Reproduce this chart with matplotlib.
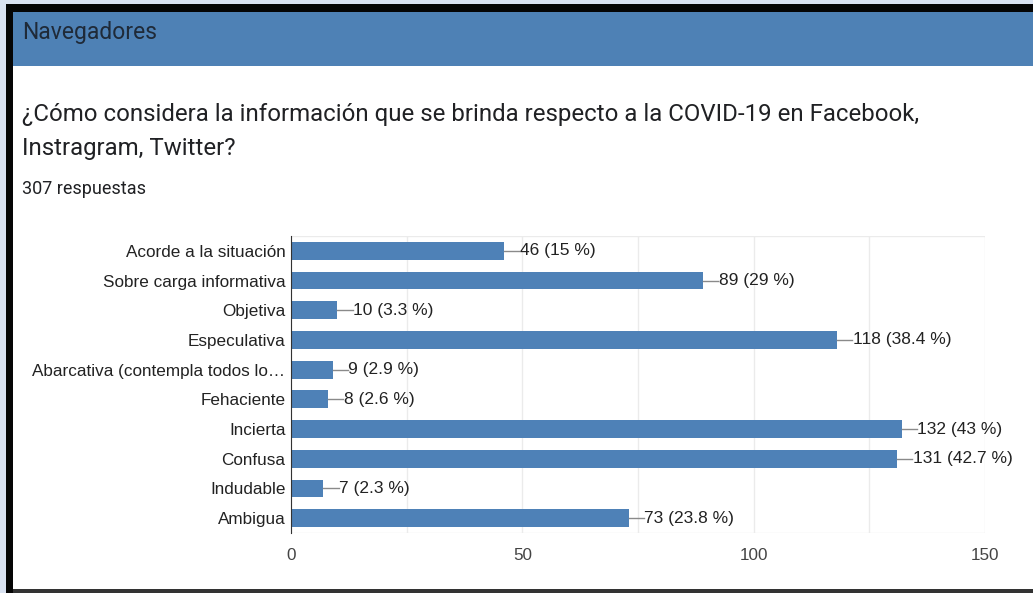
import matplotlib.pyplot as plt
from matplotlib.patches import Rectangle

categories = ['Acorde a la situación', 'Sobre carga informativa', 'Objetiva',
              'Especulativa', 'Abarcativa (contempla todos lo…', 'Fehaciente',
              'Incierta', 'Confusa', 'Indudable', 'Ambigua']
counts = [46, 89, 10, 118, 9, 8, 132, 131, 7, 73]
percents = ['15', '29', '3.3', '38.4', '2.9', '2.6', '43', '42.7', '2.3', '23.8']
xticks = [0, 50, 100, 150]

W, H = 1033, 593
BLUE = '#4e81b7'
plt.rcParams['font.family'] = ['Liberation Sans', 'DejaVu Sans']

fig = plt.figure(figsize=(W / 100, H / 100), dpi=100)


def box(x, y, w, h, color):
    # pixel coords measured from the top-left corner
    fig.patches.append(Rectangle((x / W, 1 - (y + h) / H), w / W, h / H,
                                 transform=fig.transFigure, color=color, lw=0))


def fx(x):
    return x / W


def fy(y):
    return 1 - y / H


box(0, 0, W, 4, '#d9e2f1')
box(0, 0, 6, H, '#d9e2f1')
box(6, 4, W - 6, 8, '#050505')
box(6, 4, 7, H - 4, '#050505')
box(13, 12, W - 13, 54, '#4e81b5')
box(13, 589, W - 13, 4, '#333333')

head = ['Roboto', 'DejaVu Sans']
fig.text(fx(22), fy(32), 'Navegadores', fontsize=16.5, color='#1f2a38',
         va='center', ha='left', family=head)
fig.text(fx(22), fy(114), '¿Cómo considera la información que se brinda respecto a la COVID-19 en Facebook,',
         fontsize=17.3, color='#202124', va='center', ha='left', family=head)
fig.text(fx(22), fy(149), 'Instragram, Twitter?',
         fontsize=17.3, color='#202124', va='center', ha='left', family=head)
fig.text(fx(22), fy(189), '307 respuestas', fontsize=13, color='#202124',
         va='center', ha='left', family=head)

ax = fig.add_axes([fx(291), fy(533), (985 - 291) / W, (533 - 236) / H])
ypos = list(range(len(categories)))
ax.barh(ypos, counts, height=0.6, color=BLUE, zorder=3)
for y, v, p in zip(ypos, counts, percents):
    ax.plot([v, v + 3.3], [y, y], color='#8a8a8a', lw=1, zorder=3)
    ax.text(v + 3.4, y, '{} ({} %)'.format(v, p), va='center', ha='left',
            fontsize=12.5, color='#222222')

ax.set_xlim(0, 150)
ax.set_ylim(len(categories) - 0.5, -0.5)
ax.set_yticks(ypos)
ax.set_yticklabels(categories, fontsize=12.3, color='#222222')
ax.set_xticks(xticks)
ax.set_xticklabels([str(t) for t in xticks], fontsize=12.3, color='#444444')
ax.set_xticks(range(0, 151, 25), minor=True)
ax.grid(axis='x', which='both', color='#ebebeb', lw=1, zorder=0)
ax.tick_params(length=0, which='both')
ax.tick_params(axis='x', pad=11)
ax.tick_params(axis='y', pad=4)
for s in ['top', 'right', 'bottom']:
    ax.spines[s].set_visible(False)
ax.spines['left'].set_color('#333333')
ax.spines['left'].set_zorder(4)
ax.axhline(len(categories) - 0.5, color='#ebebeb', lw=1, zorder=0)
ax.axhline(-0.5, color='#ebebeb', lw=1, zorder=0)

fig.savefig('out.png', dpi=100)
